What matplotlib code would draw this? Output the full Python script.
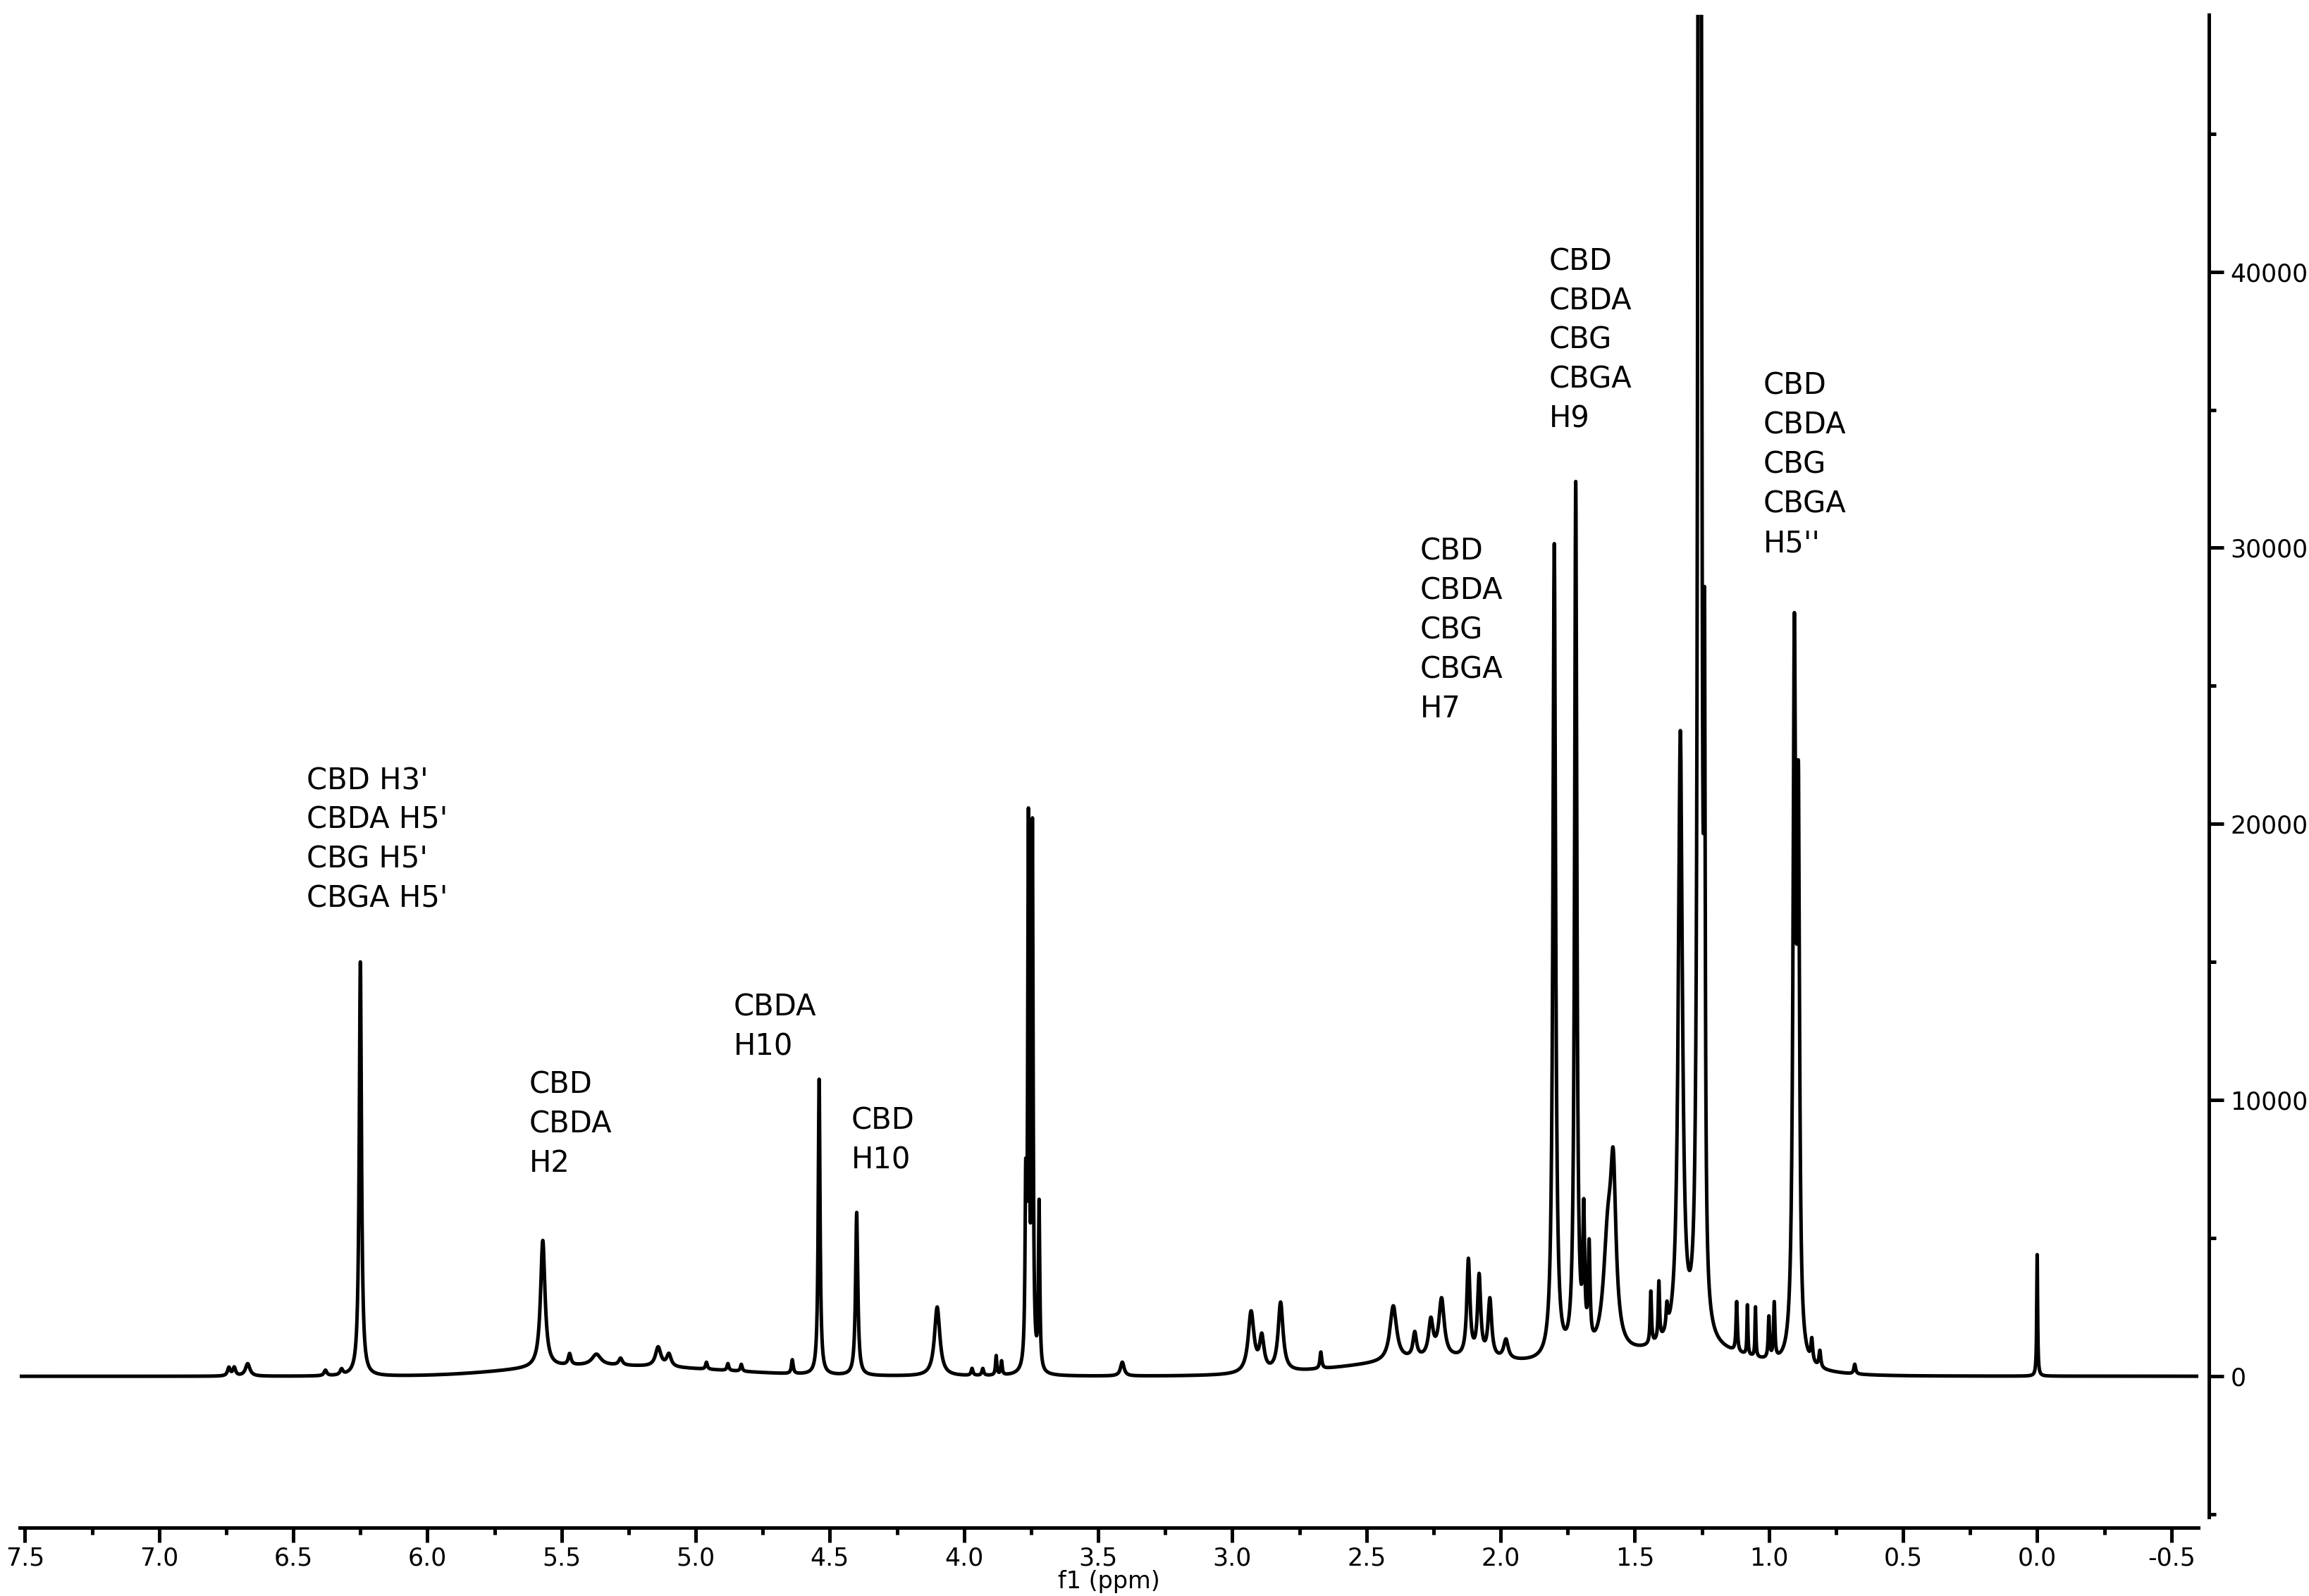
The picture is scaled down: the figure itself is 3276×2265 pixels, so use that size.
import numpy as np
import matplotlib
matplotlib.use("Agg")
import matplotlib.pyplot as plt
from matplotlib.ticker import MultipleLocator

# peak list: position (ppm), height (a.u.), half-width (ppm)
peak_ppm = [6.74, 6.72, 6.67, 6.38, 6.32, 6.25, 5.57, 5.47, 5.37, 5.28, 5.14, 5.10, 4.96, 4.88, 4.83,
            4.64, 4.54, 4.40, 4.10, 3.97, 3.93, 3.88, 3.86, 3.77, 3.76, 3.745, 3.72, 3.41,
            2.93, 2.89, 2.82, 2.67, 2.40, 2.32, 2.26, 2.22, 2.12, 2.08, 2.04, 1.98,
            1.80, 1.72, 1.69, 1.67, 1.60, 1.58, 1.44, 1.41, 1.38, 1.33, 1.262, 1.254, 1.24,
            1.12, 1.08, 1.05, 1.00, 0.98, 0.905, 0.89, 0.84, 0.81, 0.68, 0.00]
peak_height = [300, 300, 450, 200, 200, 15000, 4600, 400, 400, 250, 700, 450, 250, 250, 250,
               500, 10700, 5900, 2500, 250, 250, 700, 500, 6000, 19300, 19300, 6000, 500,
               2200, 1200, 2500, 600, 2000, 900, 1300, 2100, 3500, 2900, 2100, 700,
               29500, 31500, 4600, 3500, 4000, 5500, 1900, 2100, 900, 22000, 60000, 60000, 21000,
               1800, 1800, 1800, 1500, 2000, 25500, 18500, 800, 600, 350, 4400]
peak_width = [0.006, 0.006, 0.01, 0.006, 0.006, 0.005, 0.01, 0.006, 0.02, 0.008, 0.012, 0.01, 0.004, 0.004, 0.004,
              0.004, 0.004, 0.005, 0.012, 0.004, 0.004, 0.003, 0.003, 0.003, 0.003, 0.003, 0.003, 0.008,
              0.013, 0.01, 0.011, 0.004, 0.015, 0.008, 0.01, 0.012, 0.007, 0.007, 0.008, 0.01,
              0.006, 0.005, 0.004, 0.004, 0.02, 0.012, 0.003, 0.003, 0.004, 0.009, 0.004, 0.004, 0.003,
              0.003, 0.002, 0.002, 0.003, 0.003, 0.006, 0.005, 0.004, 0.004, 0.004, 0.002]

# broad baseline humps
hump_ppm = [5.5, 5.1, 2.2, 1.3]
hump_height = [250, 250, 600, 900]
hump_width = [0.25, 0.3, 0.35, 0.25]

labels = ["CBD H3'\nCBDA H5'\nCBG H5'\nCBGA H5'",
          "CBD\nCBDA\nH2",
          "CBDA\nH10",
          "CBD\nH10",
          "CBD\nCBDA\nCBG\nCBGA\nH7",
          "CBD\nCBDA\nCBG\nCBGA\nH9",
          "CBD\nCBDA\nCBG\nCBGA\nH5''"]
label_ppm = [6.45, 5.62, 4.86, 4.42, 2.30, 1.82, 1.02]
label_top = [22100, 11100, 13900, 9800, 30400, 40900, 36400]

x = np.arange(-0.6, 7.6, 0.0005)
y = np.zeros_like(x)
for p, h, w in zip(peak_ppm, peak_height, peak_width):
    y += h * w**2 / ((x - p)**2 + w**2)
for p, h, w in zip(hump_ppm, hump_height, hump_width):
    y += h * np.exp(-0.5 * ((x - p) / w)**2)

fig = plt.figure(figsize=(16.38, 11.325), dpi=200)
ax = fig.add_axes([0.0085, 0.0494, 0.9435, 0.9413])
ax.plot(x, y, color="black", lw=1.8)
ax.set_xlim(7.52, -0.60)
ax.set_ylim(-5100, 49300)

for s in ["left", "top"]:
    ax.spines[s].set_visible(False)
ax.spines["bottom"].set_position(("outward", 5.4))
ax.spines["right"].set_position(("outward", 5.4))
ax.spines["bottom"].set_linewidth(1.8)
ax.spines["right"].set_linewidth(1.8)
ax.yaxis.tick_right()
ax.xaxis.set_major_locator(MultipleLocator(0.5))
ax.xaxis.set_minor_locator(MultipleLocator(0.25))
ax.yaxis.set_major_locator(MultipleLocator(10000))
ax.yaxis.set_minor_locator(MultipleLocator(5000))
ax.xaxis.set_major_formatter(matplotlib.ticker.FormatStrFormatter("%.1f"))
ax.tick_params(axis="both", which="major", length=7.5, width=1.8, labelsize=12.5, direction="out")
ax.tick_params(axis="x", which="major", pad=2)
ax.tick_params(axis="both", which="minor", length=3.5, width=1.8, direction="out")
ax.tick_params(axis="y", which="both", right=True, left=False, labelright=True, labelleft=False)
ax.set_xlabel("f1 (ppm)", fontsize=12, labelpad=0)

for t, px, py in zip(labels, label_ppm, label_top):
    ax.text(px, py, t, ha="left", va="top", fontsize=15, linespacing=1.42)

fig.savefig("out.png", dpi=200)
